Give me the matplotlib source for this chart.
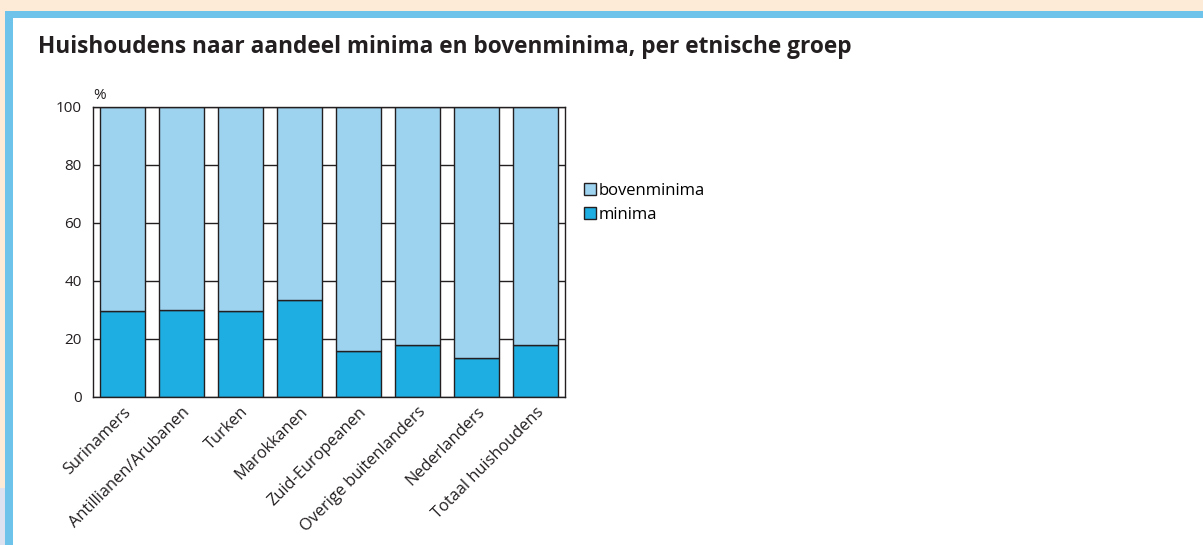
import matplotlib
matplotlib.use("Agg")
import matplotlib.pyplot as plt
from matplotlib.patches import Rectangle, Patch
import numpy as np

plt.rcParams['font.family'] = ['Open Sans', 'DejaVu Sans']

groepen = ["Surinamers", "Antillianen/Arubanen", "Turken", "Marokkanen",
           "Zuid-Europeanen", "Overige buitenlanders", "Nederlanders",
           "Totaal huishoudens"]
minima = [29.6, 29.9, 29.6, 33.3, 15.8, 17.9, 13.4, 17.9]
bovenminima = [100 - m for m in minima]

kleur_boven = "#9dd3ef"
kleur_minima = "#1faee2"

W, H = 1203, 545
fig = plt.figure(figsize=(W / 100, H / 100), dpi=100)
fig.patch.set_facecolor("#fdebd7")

# frame: lavender strip bottom-left, blue border, white card
fig.patches.append(Rectangle((0, 0), 5 / W, (H - 488) / H, transform=fig.transFigure,
                             facecolor="#dde2f0", edgecolor="none", zorder=-3))
fig.patches.append(Rectangle((5 / W, 0), 1, (H - 11) / H, transform=fig.transFigure,
                             facecolor="#6ec3eb", edgecolor="none", zorder=-2))
fig.patches.append(Rectangle((13 / W, 0), 1, (H - 18) / H, transform=fig.transFigure,
                             facecolor="white", edgecolor="none", zorder=-1))

ax = fig.add_axes([93 / W, 1 - 397 / H, (565 - 93) / W, (397 - 107) / H])
x = np.arange(len(groepen))
ax.bar(x, minima, width=0.77, color=kleur_minima, edgecolor="#231f20", linewidth=1, zorder=2)
ax.bar(x, bovenminima, bottom=minima, width=0.77, color=kleur_boven,
       edgecolor="#231f20", linewidth=1, zorder=2)

ax.set_xlim(-0.5, len(groepen) - 0.5)
ax.set_ylim(0, 100)
ax.set_yticks(range(0, 101, 20))
ax.yaxis.grid(True, color="#231f20", linewidth=1, zorder=0)
ax.set_axisbelow(True)
ax.tick_params(axis="y", length=0, labelsize=11, colors="#231f20", pad=8)
ax.tick_params(axis="x", length=0, labelsize=11.8, colors="#231f20", pad=5)
ax.set_xticks(x)
ax.set_xticklabels(groepen, rotation=45, ha="right", rotation_mode="anchor")
for s in ax.spines.values():
    s.set_color("#231f20")
    s.set_linewidth(1)

fig.text(93 / W, 1 - 95 / H, "%", fontsize=11, color="#231f20", va="center", ha="left")
fig.text(38 / W, 1 - 47 / H, "Huishoudens naar aandeel minima en bovenminima, per etnische groep",
         fontsize=16.3, fontweight="bold", color="#231f20", va="center", ha="left")

handles = [Patch(facecolor=kleur_boven, edgecolor="#231f20", label="bovenminima"),
           Patch(facecolor=kleur_minima, edgecolor="#231f20", label="minima")]
fig.legend(handles=handles, loc="upper left", bbox_to_anchor=(584 / W, 1 - 183 / H),
           frameon=False, fontsize=12, handlelength=0.7, handleheight=0.7,
           handletextpad=0.2, labelspacing=0.45, borderpad=0, borderaxespad=0)

fig.savefig("out.png", dpi=100)
